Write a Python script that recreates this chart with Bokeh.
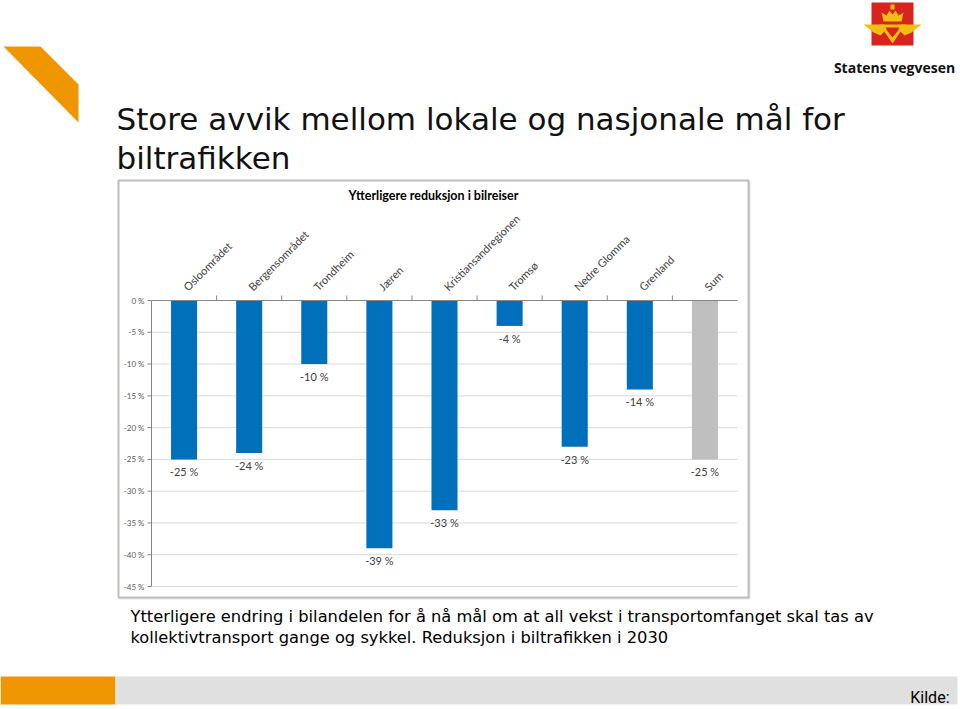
import math
from bokeh.plotting import figure
from bokeh.models import Range1d, ColumnDataSource
from bokeh.core.properties import value
from bokeh.embed import file_html
from bokeh.resources import INLINE

# ---------------- data ----------------
categories = ["Osloområdet", "Bergensområdet", "Trondheim", "Jæren",
              "Kristiansandregionen", "Tromsø", "Nedre Glomma", "Grenland", "Sum"]
reductions = [-25, -24, -10, -39, -33, -4, -23, -14, -25]
y_ticks = [0, -5, -10, -15, -20, -25, -30, -35, -40, -45]

slide_title = ["Store avvik mellom lokale og nasjonale mål for", "biltrafikken"]
chart_title = "Ytterligere reduksjon i bilreiser"
caption = ["Ytterligere endring i bilandelen for å nå mål om at all vekst i transportomfanget skal tas av",
           "kollektivtransport gange og sykkel. Reduksjon i biltrafikken i 2030"]
brand = "Statens vegvesen"
source_note = "Kilde:"

# ---------------- layout (page pixels) ----------------
W, H = 960, 709
PX0, PX1 = 151, 737          # chart plot area, left/right
PY_TOP, PY_BOT = 300, 586    # chart plot area, y of max tick / min tick

BLUE = "#0070BA"
GREY_BAR = "#BFBFBF"
ORANGE = "#EF9500"
GOLD = "#F3BE12"
RED = "#D9231E"
AXIS = "#868686"

n = len(categories)
ymax, ymin = max(y_ticks), min(y_ticks)
ux = (PX1 - PX0) / n
uy = (PY_BOT - PY_TOP) / (ymax - ymin)
cx_start = -0.5 - PX0 / ux
cy_top = ymax + PY_TOP / uy
cy_bot = ymax - (H - PY_TOP) / uy

p = figure(width=W, height=H, x_range=Range1d(0, W), y_range=Range1d(H, 0),
           x_axis_type=None, y_axis_type=None, min_border=0,
           output_backend="svg", toolbar_location=None,
           outline_line_color=None, background_fill_color="white", border_fill_color="white")
p.grid.visible = False
p.extra_x_ranges = {"cx": Range1d(cx_start, cx_start + W / ux)}
p.extra_y_ranges = {"cy": Range1d(cy_bot, cy_top)}
C = dict(x_range_name="cx", y_range_name="cy")

xs = list(range(n))
colors = [GREY_BAR if c == "Sum" else BLUE for c in categories]
src = ColumnDataSource(dict(x=xs, v=reductions, color=colors,
                            label=[f"{v} %" for v in reductions], cat=categories))

# ---------- chart box ----------
p.quad(left=119, right=749, top=181, bottom=598, fill_color=None,
       line_color="#E3E3E3", line_width=2)
p.quad(left=118, right=748, top=180, bottom=597, fill_color="white",
       line_color="#BDBDBD", line_width=2)
p.text(x=[433], y=[195], text=[chart_title], text_align="center", text_baseline="middle",
       text_font=value("Lato"), text_font_style="bold", text_font_size="12.5px",
       text_color="#000000")

# gridlines
p.segment(x0=[-0.5] * len(y_ticks), x1=[n - 0.5] * len(y_ticks), y0=y_ticks, y1=y_ticks,
          line_color="#D9D9D9", line_width=1, **C)
# y axis line and ticks
p.segment(x0=[-0.5], x1=[-0.5], y0=[ymax], y1=[ymin], line_color=AXIS, line_width=1, **C)
p.scatter(x=[-0.5 - 2 / ux] * len(y_ticks), y=y_ticks, marker="dash", size=4,
          line_color=AXIS, line_width=1, **C)
p.text(x=[-0.5] * len(y_ticks), y=y_ticks, text=[f"{t} %" for t in y_ticks],
       x_offset=-7, text_align="right", text_baseline="middle",
       text_font=value("Lato"), text_font_size="8px", text_color="#595959", **C)

# bars
p.vbar(x="x", top=0, bottom="v", width=0.4, fill_color="color", line_color=None,
       source=src, **C)

# category axis at 0 (top) with boundary tick marks
p.segment(x0=[-0.5], x1=[n - 0.5], y0=[0], y1=[0], line_color=AXIS, line_width=1, **C)
bounds = [i + 0.5 for i in xs[:-1]]
p.segment(x0=bounds, x1=bounds, y0=[0] * len(bounds), y1=[5 / uy] * len(bounds),
          line_color=AXIS, line_width=1, **C)
p.text(x="x", y=0, text="cat", source=src, angle=math.pi / 4,
       text_align="left", text_baseline="middle", x_offset=1, y_offset=-12,
       text_font=value("Lato"), text_font_size="11px", text_color="#404040", **C)

# data labels
p.text(x="x", y="v", text="label", source=src, text_align="center", text_baseline="top",
       y_offset=6, text_font=value("Lato"), text_font_size="11px", text_color="#404040", **C)

# ---------- slide decoration ----------
p.patch(x=[3, 40, 78, 78], y=[46, 46, 84, 122], fill_color=ORANGE, line_color=None)

p.text(x=[116, 116], y=[118, 157], text=slide_title, text_baseline="alphabetic",
       text_font=value("DejaVu Sans"), text_font_size="31px", text_color="#111111")

# logo
p.quad(left=871, right=913, top=2, bottom=45, fill_color=RED, line_color=None)
p.patches(xs=[[883, 901, 903, 898, 895, 892, 889, 886, 881],
              [890, 894, 894, 890],
              [879, 905, 892],
              [884, 900, 892],
              [863, 884, 886, 880, 873, 868],
              [921, 900, 898, 904, 911, 916]],
          ys=[[21, 21, 12, 15, 10, 14, 10, 15, 12],
              [4, 4, 9, 9],
              [24, 24, 43],
              [27, 27, 37],
              [24, 24, 29, 35, 32, 28],
              [24, 24, 29, 35, 32, 28]],
          fill_color=[GOLD, GOLD, GOLD, RED, GOLD, GOLD], line_color=None)
p.text(x=[894], y=[67], text=[brand], text_align="center", text_baseline="alphabetic",
       text_font=value("Open Sans"), text_font_style="bold", text_font_size="14px",
       text_color="#111111")

# caption
p.text(x=[130, 130], y=[616, 637], text=caption, text_baseline="alphabetic",
       text_font=value("DejaVu Sans"), text_font_size="16.3px", text_color="#000000")

# footer
p.quad(left=[0, 115], right=[115, 957], top=[676, 676], bottom=[704, 704],
       fill_color=[ORANGE, "#E0E0E0"], line_color=None)
p.text(x=[949], y=[697], text=[source_note], text_align="right", text_baseline="alphabetic",
       text_font=value("Roboto"), text_font_size="16px", text_color="#000000")

open("out.html", "w").write(file_html(p, INLINE))
